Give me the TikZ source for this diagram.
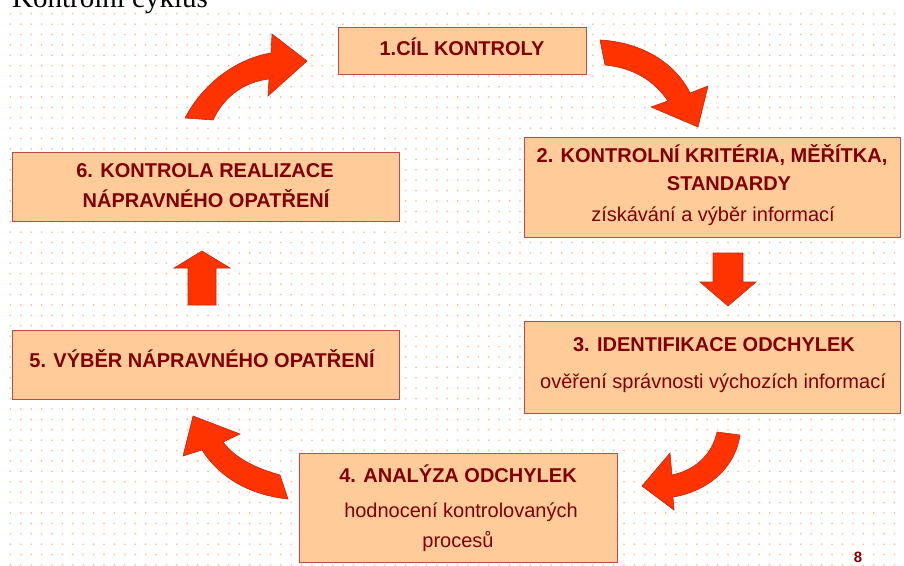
\documentclass[tikz,border=0pt]{standalone}
\usepackage{fontspec}
\setmainfont{Liberation Sans}
\newfontfamily\titlefont{Liberation Serif}
\usetikzlibrary{patterns.meta}
\definecolor{boxfill}{RGB}{255,204,153}
\definecolor{boxline}{RGB}{190,75,72}
\definecolor{txt}{RGB}{128,0,0}
\definecolor{arrfill}{RGB}{255,51,0}
\definecolor{arrline}{RGB}{190,40,20}
\definecolor{dotc}{RGB}{255,185,140}
\tikzset{
  stepbox/.style={draw=boxline, fill=boxfill, line width=0.9pt},
  bold/.style={font=\fontsize{20}{24}\selectfont\bfseries, text=txt, anchor=base, inner sep=0pt},
  plain/.style={font=\fontsize{20}{24}\selectfont, text=txt, anchor=base, inner sep=0pt},
  blockarrow/.style={fill=arrfill, draw=arrline, line width=0.6pt, line join=miter}
}
\begin{document}
\begin{tikzpicture}[x=1pt,y=-1pt]
\useasboundingbox (0,0) rectangle (904,565);
\fill[white] (0,0) rectangle (904,565);
% dotted background
\fill[pattern={Dots[distance=10.4pt,radius=0.9pt]}, pattern color=dotc] (7,7) rectangle (904,565);
% cut-off title
\node[font=\titlefont\fontsize{29}{32}\selectfont, anchor=base west, inner sep=0pt] (title) at (12,7) {Kontrolní cyklus};

% boxes
\draw[stepbox] (338,27) rectangle (586,74);
\coordinate (b1) at (462,50);
\draw[stepbox] (524,137) rectangle (900,237);
\draw[stepbox] (524,321) rectangle (900,413);
\draw[stepbox] (299,453) rectangle (617,562);
\draw[stepbox] (12,330) rectangle (399,399);
\draw[stepbox] (12,152) rectangle (399,221);

% texts
\node[bold] (t1) at (462,55) {1.CÍL KONTROLY};
\node[bold] (t2a) at (712,162) {2. KONTROLNÍ KRITÉRIA, MĚŘÍTKA,};
\node[bold] (t2b) at (729,190) {STANDARDY};
\node[plain] (t2c) at (713,221) {získávání a výběr informací};
\node[bold] (t3a) at (714,351) {3. IDENTIFIKACE ODCHYLEK};
\node[plain] (t3b) at (713,388) {ověření správnosti výchozích informací};
\node[bold] (t4a) at (458,482) {4. ANALÝZA ODCHYLEK};
\node[plain] (t4b) at (461,517) {hodnocení kontrolovaných};
\node[plain] (t4c) at (458,547) {procesů};
\node[bold] (t5) at (202,367) {5. VÝBĚR NÁPRAVNÉHO OPATŘENÍ};
\node[bold] (t6a) at (205,177) {6. KONTROLA REALIZACE};
\node[bold] (t6b) at (206,207) {NÁPRAVNÉHO OPATŘENÍ};

% arrows
% 6 -> 1
\draw[blockarrow] (185,118) .. controls (205,80) and (240,58) .. (271,53) -- (272,34) -- (307,61) -- (268,96) -- (269,79) .. controls (245,82) and (225,95) .. (213,120) -- cycle;
% 1 -> 2
\draw[blockarrow] (600,40) .. controls (640,42) and (675,62) .. (690,93) -- (708,86) -- (698,127) -- (651,107) -- (668,101) .. controls (655,82) and (635,68) .. (605,65) -- cycle;
% 2 -> 3
\draw[blockarrow] (713,253) -- (743,253) -- (743,282) -- (756,282) -- (728,306) -- (700,282) -- (713,282) -- cycle;
% 3 -> 4
\draw[blockarrow] (717,432) .. controls (712,455) and (695,470) .. (672,475) -- (670,453) -- (642,486) -- (674,510) -- (673,497) .. controls (705,492) and (735,470) .. (740,435) -- cycle;
% 4 -> 5
\draw[blockarrow] (280,475) .. controls (255,468) and (235,458) .. (223,442) -- (240,434) -- (193,416) -- (183,456) -- (202,450) .. controls (220,478) and (250,495) .. (288,499) -- cycle;
% 5 -> 6
\draw[blockarrow] (188,305) -- (188,268) -- (174,268) -- (202,251) -- (230,268) -- (216,268) -- (216,305) -- cycle;

% page number
\node[font=\fontsize{15}{18}\selectfont\bfseries, text=txt, anchor=base, inner sep=0pt] (pg) at (858,562) {8};
\end{tikzpicture}
\end{document}
